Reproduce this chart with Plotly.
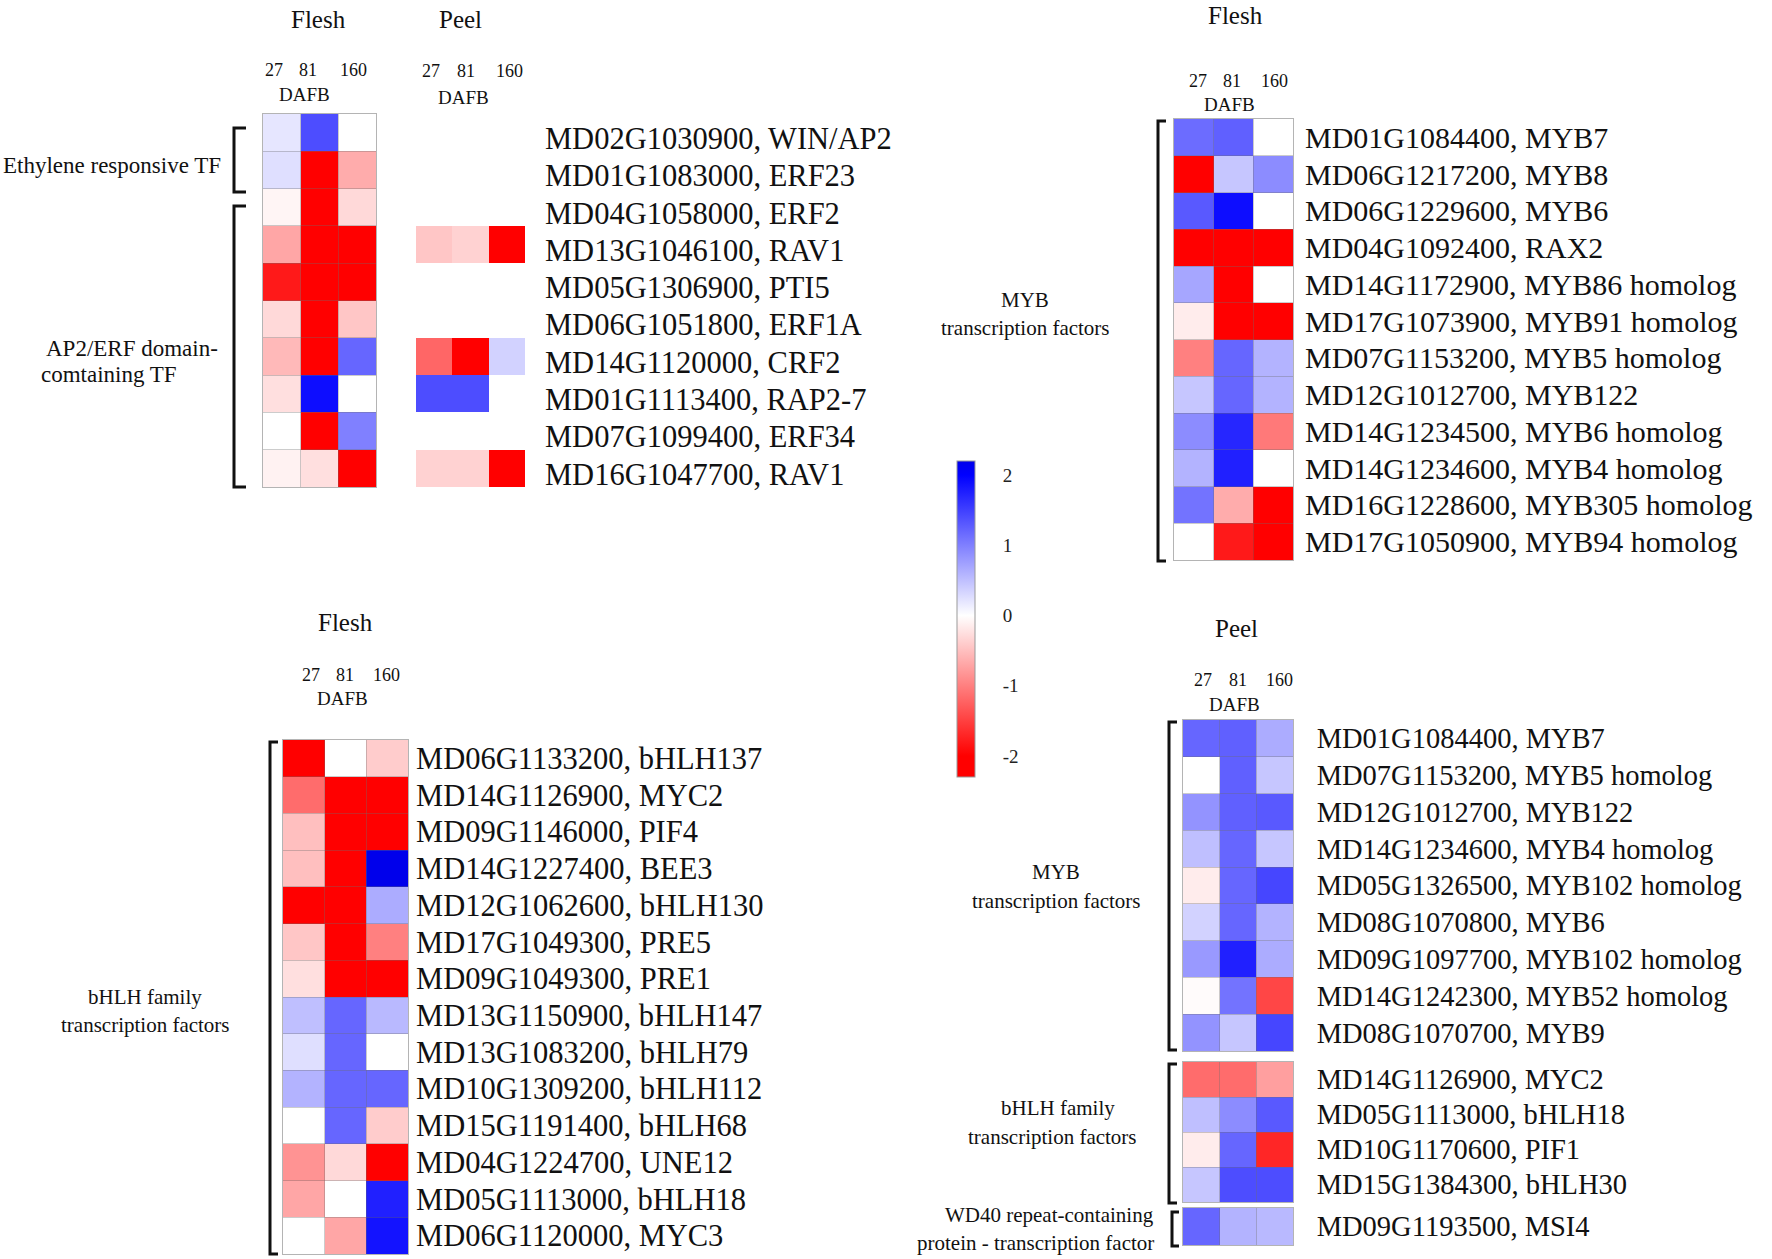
import plotly.graph_objects as go

# ---------------- data ----------------
cols = ["27", "81", "160"]

a_genes = ["MD02G1030900, WIN/AP2", "MD01G1083000, ERF23", "MD04G1058000, ERF2",
           "MD13G1046100, RAV1", "MD05G1306900, PTI5", "MD06G1051800, ERF1A",
           "MD14G1120000, CRF2", "MD01G1113400, RAP2-7", "MD07G1099400, ERF34",
           "MD16G1047700, RAV1"]
a_flesh = [[0.2, 1.4, 0.0], [0.25, -2.2, -0.65], [-0.08, -2.2, -0.3], [-0.7, -2.2, -2.2],
           [-1.8, -2.2, -2.1], [-0.3, -2.2, -0.45], [-0.55, -2.2, 1.2], [-0.25, 1.9, 0.0],
           [0.0, -2.2, 1.0], [-0.1, -0.25, -2.2]]
a_peel = [[None, None, None], [None, None, None], [None, None, None], [-0.45, -0.35, -2.2],
          [None, None, None], [None, None, None], [-1.2, -2.2, 0.35], [1.4, 1.4, 0.0],
          [None, None, None], [-0.35, -0.35, -2.2]]

b_genes = ["MD01G1084400, MYB7", "MD06G1217200, MYB8", "MD06G1229600, MYB6",
           "MD04G1092400, RAX2", "MD14G1172900, MYB86 homolog", "MD17G1073900, MYB91 homolog",
           "MD07G1153200, MYB5 homolog", "MD12G1012700, MYB122", "MD14G1234500, MYB6 homolog",
           "MD14G1234600, MYB4 homolog", "MD16G1228600, MYB305 homolog", "MD17G1050900, MYB94 homolog"]
b_flesh = [[1.15, 1.25, 0.0], [-2.2, 0.45, 0.9], [1.3, 1.9, 0.0], [-2.2, -2.1, -2.2],
           [0.7, -2.2, 0.0], [-0.15, -2.2, -2.2], [-1.0, 1.2, 0.6], [0.45, 1.2, 0.6],
           [0.9, 1.7, -1.05], [0.6, 1.75, 0.0], [1.1, -0.65, -2.2], [0.0, -1.8, -2.1]]

c_genes = ["MD06G1133200, bHLH137", "MD14G1126900, MYC2", "MD09G1146000, PIF4",
           "MD14G1227400, BEE3", "MD12G1062600, bHLH130", "MD17G1049300, PRE5",
           "MD09G1049300, PRE1", "MD13G1150900, bHLH147", "MD13G1083200, bHLH79",
           "MD10G1309200, bHLH112", "MD15G1191400, bHLH68", "MD04G1224700, UNE12",
           "MD05G1113000, bHLH18", "MD06G1120000, MYC3"]
c_flesh = [[-2.2, 0.0, -0.4], [-1.15, -2.2, -2.2], [-0.5, -2.2, -2.2], [-0.5, -2.2, 2.2],
           [-2.2, -2.2, 0.65], [-0.45, -2.2, -1.0], [-0.25, -2.2, -2.2], [0.5, 1.2, 0.55],
           [0.25, 1.2, 0.0], [0.6, 1.2, 1.2], [0.0, 1.2, -0.4], [-0.85, -0.3, -2.2],
           [-0.7, 0.0, 1.75], [0.0, -0.7, 1.85]]

d_myb_genes = ["MD01G1084400, MYB7", "MD07G1153200, MYB5 homolog", "MD12G1012700, MYB122",
               "MD14G1234600, MYB4 homolog", "MD05G1326500, MYB102 homolog", "MD08G1070800, MYB6",
               "MD09G1097700, MYB102 homolog", "MD14G1242300, MYB52 homolog", "MD08G1070700, MYB9"]
d_myb = [[1.2, 1.25, 0.65], [0.0, 1.25, 0.45], [0.85, 1.25, 1.3], [0.5, 1.2, 0.45],
         [-0.15, 1.2, 1.45], [0.35, 1.2, 0.6], [0.8, 1.75, 0.65], [-0.03, 1.1, -1.45],
         [0.85, 0.45, 1.45]]
d_bhlh_genes = ["MD14G1126900, MYC2", "MD05G1113000, bHLH18", "MD10G1170600, PIF1",
                "MD15G1384300, bHLH30"]
d_bhlh = [[-1.15, -1.15, -0.75], [0.5, 0.9, 1.3], [-0.15, 1.2, -1.7], [0.45, 1.4, 1.4]]
d_wd_genes = ["MD09G1193500, MSI4"]
d_wd = [[1.2, 0.6, 0.55]]

cbar_ticks = [-2, -1, 0, 1, 2]

# ---------------- layout helpers ----------------
W, H = 1772, 1259
SERIF = "Liberation Serif"
GRID = "rgba(110,110,110,0.35)"


def px(x):
    return x / W


def py(y):
    return 1 - y / H


panels = [
    dict(z=a_flesh, labels=None, x0=263, x1=376, y0=114, y1=487, frame=True, so=0, dy=0, fs=30),
    dict(z=a_peel, labels=a_genes, x0=416, x1=525, y0=114, y1=487, frame=False, so=19, dy=0.15, fs=30.5),
    dict(z=b_flesh, labels=b_genes, x0=1174, x1=1293, y0=119, y1=560, frame=True, so=5, dy=0, fs=30),
    dict(z=c_flesh, labels=c_genes, x0=283, x1=408, y0=740, y1=1254, frame=True, so=1, dy=0, fs=30.5),
    dict(z=d_myb, labels=d_myb_genes, x0=1183, x1=1293, y0=720, y1=1051, frame=True, so=17, dy=0, fs=28.5),
    dict(z=d_bhlh, labels=d_bhlh_genes, x0=1183, x1=1293, y0=1062, y1=1202, frame=True, so=17, dy=0, fs=28.5),
    dict(z=d_wd, labels=d_wd_genes, x0=1183, x1=1293, y0=1208, y1=1245, frame=True, so=17, dy=0, fs=28.5),
]

fig = go.Figure()
lay = {}
for i, p in enumerate(panels):
    k = "" if i == 0 else str(i + 1)
    n = len(p["z"])
    w_px = p["x1"] - p["x0"]
    h_px = p["y1"] - p["y0"]
    fig.add_trace(go.Heatmap(
        z=p["z"], x=list(range(3)), y=list(range(n)),
        coloraxis="coloraxis", xaxis="x" + k, yaxis="y" + k,
        hoverongaps=False,
    ))
    xa = dict(
        domain=[px(p["x0"]), px(p["x1"])], range=[-0.5, 2.5], anchor="y" + k,
        showticklabels=False, showgrid=False, zeroline=False,
        showline=p["frame"], mirror=True, linecolor="#b4b4b4", linewidth=1,
        fixedrange=True, layer="above traces",
    )
    if p["frame"]:
        xa.update(tickmode="array", tickvals=[0.5, 1.5], ticks="inside",
                  ticklen=h_px, tickwidth=1, tickcolor=GRID)
    else:
        xa.update(ticks="")
    lay["xaxis" + k] = xa
    ya = dict(
        domain=[py(p["y1"]), py(p["y0"])], range=[n - 0.5, -0.5], anchor="x" + k,
        showgrid=False, zeroline=False, showline=p["frame"], mirror=True,
        linecolor="#b4b4b4", linewidth=1, fixedrange=True, side="right", ticks="",
        layer="above traces",
    )
    if p["frame"] and n > 1:
        ya.update(minor=dict(tickmode="array", tickvals=[r + 0.5 for r in range(n - 1)],
                             ticks="inside", ticklen=w_px, tickwidth=1, tickcolor=GRID))
    if p["labels"]:
        ya.update(tickmode="array", tickvals=[r + p["dy"] for r in range(n)],
                  ticktext=p["labels"],
                  tickfont=dict(family=SERIF, size=p["fs"], color="#111"),
                  ticklabelstandoff=p["so"], automargin=False)
    else:
        ya.update(showticklabels=False)
    lay["yaxis" + k] = ya

cmin, cmax = -2.3, 2.2


def f(v):
    return (v - cmin) / (cmax - cmin)


colorscale = [
    [0.0, "rgb(255,0,0)"], [f(-2), "rgb(255,0,0)"], [f(0), "rgb(255,255,255)"],
    [f(2), "rgb(0,0,255)"], [1.0, "rgb(0,0,235)"],
]

# ---------------- text annotations ----------------
ann = []


def txt(s, x, y, size, anchor="center", color="#111"):
    ann.append(dict(text=s, x=px(x), y=py(y), xref="paper", yref="paper", showarrow=False,
                    xanchor=anchor, yanchor="middle",
                    font=dict(family=SERIF, size=size, color=color)))


# panel titles
txt("Flesh", 318, 20, 25)
txt("Peel", 460, 20, 25)
txt("Flesh", 1235, 15, 25)
txt("Flesh", 345, 623, 25)
txt("Peel", 1236, 628, 25)

# column labels
col_sets = [
    ([274, 308, 353], 70, (304, 95)),
    ([431, 466, 509], 71, (463, 97)),
    ([1198, 1232, 1274], 81, (1229, 105)),
    ([311, 345, 386], 675, (342, 698)),
    ([1203, 1238, 1279], 680, (1234, 704)),
]
for xs, yy, (dx, dy) in col_sets:
    for c, xx in zip(cols, xs):
        txt(c, xx, yy, 18)
    txt("DAFB", dx, dy, 19)

# group labels
txt("Ethylene responsive TF", 223, 166, 23, anchor="right")
txt("AP2/ERF domain-", 44, 348, 23, anchor="left")
txt("comtaining TF", 39, 374, 23, anchor="left")
txt("MYB", 1025, 300, 21)
txt("transcription factors", 1025, 328, 21)
txt("bHLH family", 145, 997, 21)
txt("transcription factors", 145, 1025, 21)
txt("MYB", 1056, 872, 21)
txt("transcription factors", 1056, 901, 21)
txt("bHLH family", 1058, 1108, 21)
txt("transcription factors", 1052, 1137, 21)
txt("WD40 repeat-containing", 1156, 1215, 21, anchor="right")
txt("protein - transcription factor", 1156, 1243, 21, anchor="right")

# ---------------- brackets ----------------
shapes = []


def bracket(x, y0, y1, hook=12):
    path = "M {a},{b} L {c},{b} L {c},{d} L {a},{d}".format(
        a=px(x + hook), b=py(y0), c=px(x), d=py(y1))
    shapes.append(dict(type="path", path=path, xref="paper", yref="paper",
                       line=dict(color="#111", width=3)))


bracket(234, 128, 192)
bracket(234, 206, 487)
bracket(1158, 121, 561, hook=8)
bracket(270, 742, 1254, hook=8)
bracket(1169, 722, 1050, hook=8)
bracket(1169, 1064, 1203, hook=8)
bracket(1172, 1212, 1246, hook=7)

fig.update_layout(
    width=W, height=H, margin=dict(l=0, r=0, t=0, b=0),
    paper_bgcolor="white", plot_bgcolor="white",
    showlegend=False,
    coloraxis=dict(
        cmin=cmin, cmax=cmax, colorscale=colorscale,
        colorbar=dict(
            x=px(957), xanchor="left", y=py(619), yanchor="middle",
            len=316, lenmode="pixels", thickness=18, thicknessmode="pixels",
            outlinewidth=1, outlinecolor="#999", xpad=0, ypad=0,
            tickmode="array", tickvals=cbar_ticks, ticktext=[str(t) for t in cbar_ticks],
            ticks="outside", ticklen=24, tickcolor="rgba(0,0,0,0)",
            tickfont=dict(family=SERIF, size=19, color="#222"),
        ),
    ),
    annotations=ann, shapes=shapes,
    **lay,
)

fig.write_html(
    "out.html",
    config={"displayModeBar": False},
    post_script="document.body.style.margin='0';document.body.style.overflow='hidden';",
)
